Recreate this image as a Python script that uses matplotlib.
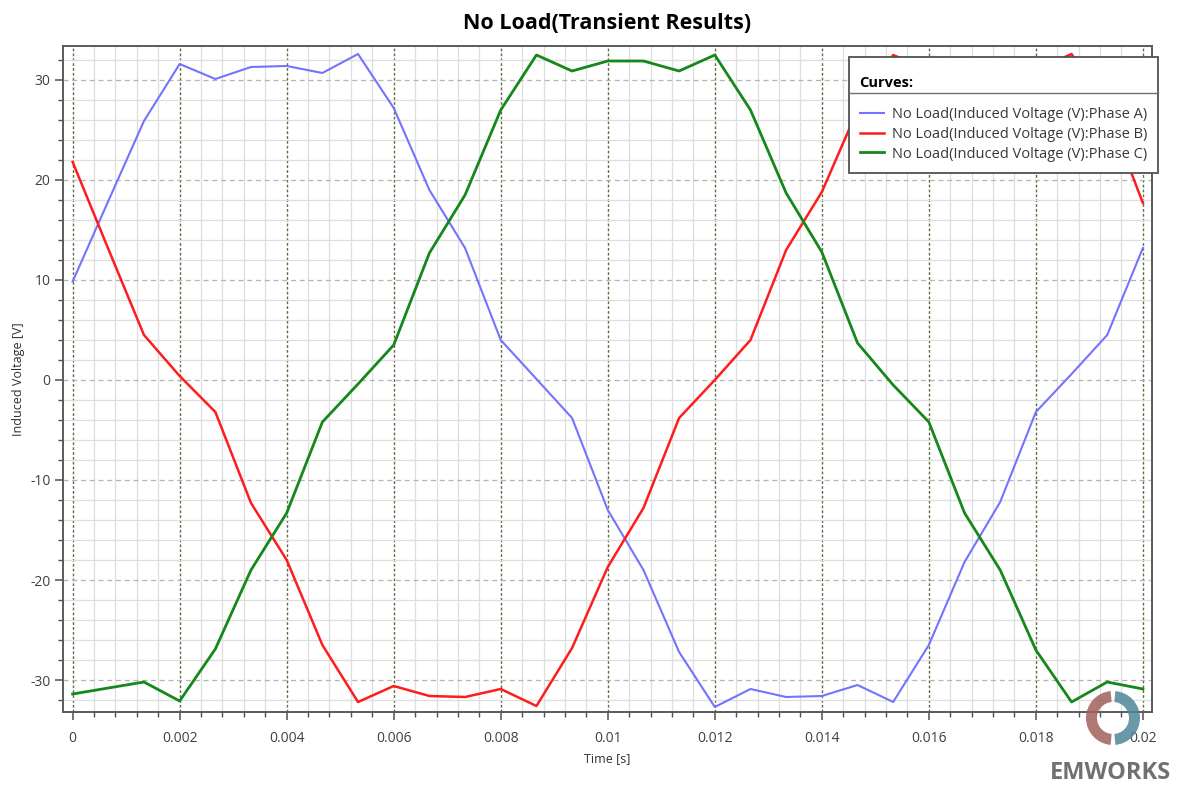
import matplotlib
matplotlib.use('Agg')
import matplotlib.pyplot as plt
from matplotlib.ticker import MultipleLocator, FormatStrFormatter
from matplotlib.lines import Line2D
from matplotlib.patches import Wedge
from matplotlib.offsetbox import VPacker, DrawingArea
import numpy as np

plt.rcParams['font.family'] = ['Open Sans', 'DejaVu Sans']
plt.rcParams['axes.unicode_minus'] = False

# Time samples [s] and induced voltage per phase [V]
time_s = [0, 0.000667, 0.001333, 0.002, 0.002667, 0.003333, 0.004, 0.004667,
          0.005333, 0.006, 0.006667, 0.007333, 0.008, 0.008667, 0.009333, 0.01,
          0.010667, 0.011333, 0.012, 0.012667, 0.013333, 0.014, 0.014667,
          0.015333, 0.016, 0.016667, 0.017333, 0.018, 0.018667, 0.019333, 0.02]

phase_a = [9.85, 17.9, 25.9, 31.6, 30.1, 31.3, 31.4, 30.7, 32.6, 27.2, 19.0,
           13.2, 4.0, 0.1, -3.8, -13.0, -19.0, -27.2, -32.7, -30.9, -31.7,
           -31.6, -30.5, -32.2, -26.5, -18.2, -12.2, -3.2, 0.6, 4.5, 13.2]

phase_b = [21.8, 13.1, 4.5, 0.4, -3.2, -12.3, -18.0, -26.5, -32.2, -30.6, -31.6,
           -31.7, -30.9, -32.6, -26.8, -18.7, -12.8, -3.8, 0.0, 4.0, 13.0,
           18.8, 27.0, 32.5, 31.0, 31.9, 31.9, 31.0, 32.6, 27.0, 17.7]

phase_c = [-31.4, -30.8, -30.2, -32.1, -26.9, -19.0, -13.3, -4.2, -0.4, 3.5,
           12.7, 18.5, 27.0, 32.5, 30.9, 31.9, 31.9, 30.9, 32.5, 27.0, 18.7,
           12.8, 3.7, -0.5, -4.2, -13.3, -19.0, -27.0, -32.2, -30.2, -30.9]

labels = ['No Load(Induced Voltage (V):Phase A)',
          'No Load(Induced Voltage (V):Phase B)',
          'No Load(Induced Voltage (V):Phase C)']

fig = plt.figure(figsize=(11.84, 7.87), dpi=100)
ax = fig.add_axes([63 / 1184, 1 - 712 / 787, (1152 - 63) / 1184, (712 - 46) / 787])

ax.plot(time_s, phase_a, color='#7373ff', lw=1.5, label=labels[0])
ax.plot(time_s, phase_b, color='#ff1c1c', lw=1.8, label=labels[1])
ax.plot(time_s, phase_c, color='#16871a', lw=2.0, label=labels[2])

ax.set_xlim(-0.00018, 0.02017)
ax.set_ylim(-33.2, 33.4)

ax.xaxis.set_major_locator(MultipleLocator(0.002))
ax.xaxis.set_minor_locator(MultipleLocator(0.0004))
ax.yaxis.set_major_locator(MultipleLocator(10))
ax.yaxis.set_minor_locator(MultipleLocator(2))
ax.xaxis.set_major_formatter(FormatStrFormatter('%g'))

# grid: light solid minors, dashed majors
ax.grid(which='minor', color='#dedede', lw=0.9, ls='-')
ax.grid(which='major', axis='y', color='#b4b4b4', lw=0.9, ls=(0, (4, 3)))
ax.grid(which='major', axis='x', color='#5e6e40', lw=1.0, ls=(0, (2, 1.5)))
ax.set_axisbelow(True)

for s in ax.spines.values():
    s.set_color('#5a5a5a')
    s.set_linewidth(1.4)

ax.tick_params(which='major', direction='out', length=6, width=1.1, color='#505050',
               labelsize=10, labelcolor='#404040')
ax.tick_params(which='minor', direction='out', length=3.5, width=1.0, color='#505050')
ax.tick_params(axis='x', which='major', pad=8)
ax.tick_params(axis='y', which='major', pad=3)

ax.set_title('No Load(Transient Results)', fontsize=15.5, fontweight='bold', pad=12)
ax.set_xlabel('Time [s]', fontsize=9, color='#303030', labelpad=4)
ax.set_ylabel('Induced Voltage [V]', fontsize=9, color='#303030', labelpad=4)

leg = ax.legend(loc='upper right', bbox_to_anchor=(1158 / 1184, 1 - 57 / 787),
                bbox_transform=fig.transFigure, title='Curves:', alignment='left',
                fontsize=10.5, handlelength=1.7, handletextpad=0.5, labelspacing=0.33,
                borderpad=0.75, borderaxespad=0, fancybox=False, shadow=False,
                framealpha=1, edgecolor='#505050')
leg.get_title().set_fontweight('bold')
leg.get_title().set_fontsize(10.5)
leg.get_frame().set_linewidth(1.3)
# extra room above the title and between title and entries
title_box = VPacker(children=[DrawingArea(1, 6), leg._legend_title_box],
                    pad=0, sep=0, align='left')
leg._legend_box._children[0] = title_box
leg._legend_box.sep = 12
leg._legend_box.set_figure(fig)
for t in leg.get_texts():
    t.set_color('#383838')

# separator under the legend title
fig.canvas.draw()
lb = leg.get_window_extent()
tb = leg.get_title().get_window_extent()
ysep = (tb.y0 - 3) / fig.bbox.height
fig.add_artist(Line2D([lb.x0 / fig.bbox.width, lb.x1 / fig.bbox.width], [ysep, ysep],
                      color='#707070', lw=1.0, transform=fig.transFigure, zorder=10))

# EMWORKS mark
fig.add_artist(Wedge((1113, 787 - 718), 27, 95, 265, width=11, transform=None,
                     facecolor='#a0605a', edgecolor='none', alpha=0.85))
fig.add_artist(Wedge((1113, 787 - 718), 27, -85, 85, width=11, transform=None,
                     facecolor='#4f8799', edgecolor='none', alpha=0.85))
fig.text(1110 / 1184, 1 - 773 / 787, 'EMWORKS', ha='center', va='center',
         fontsize=17, fontweight='bold', color='#707070')

fig.savefig('out.png', dpi=100)
